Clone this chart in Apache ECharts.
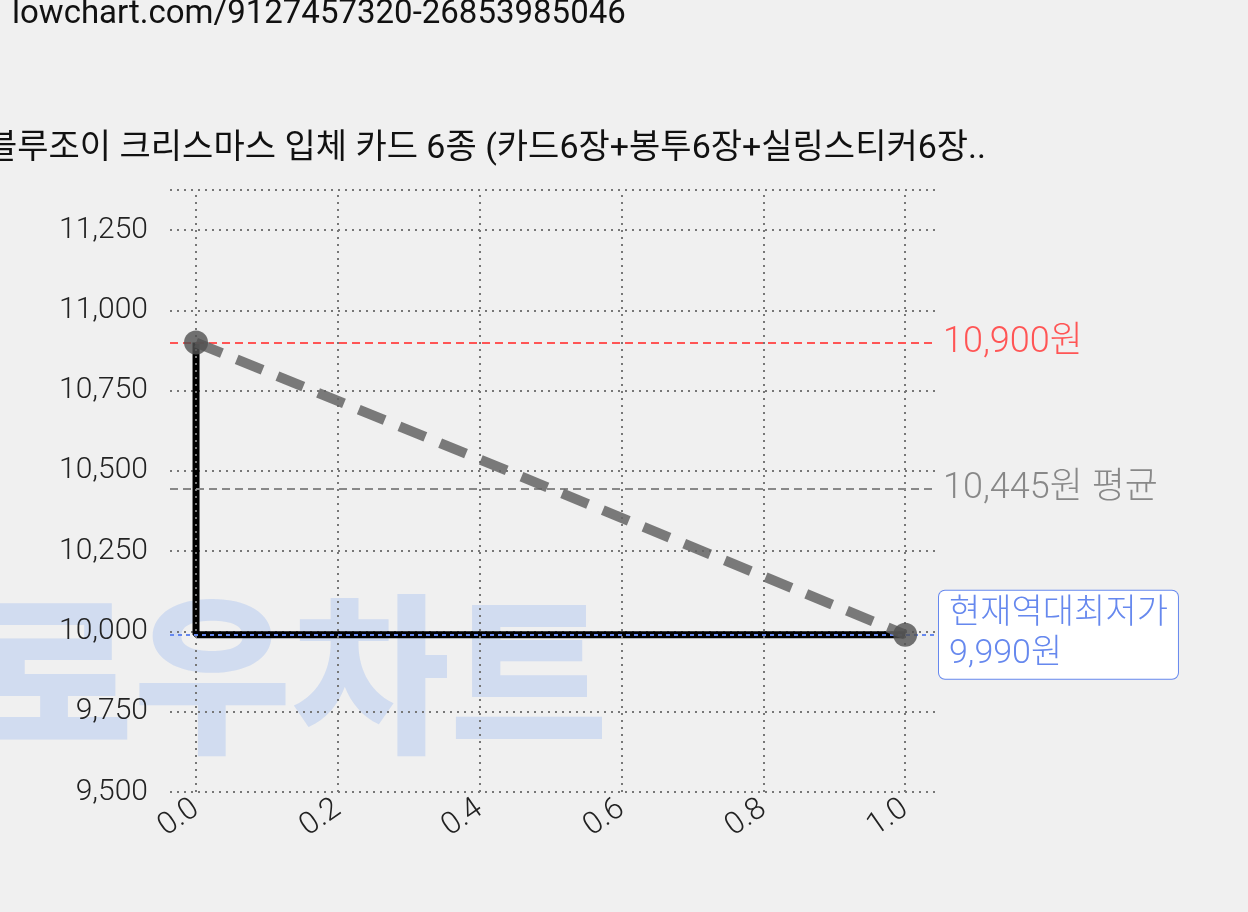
<!DOCTYPE html>
<html><head><meta charset="utf-8">
<script src="https://cdn.jsdelivr.net/npm/echarts@6/dist/echarts.min.js"></script>
<style>html,body{margin:0;padding:0;background:#f0f0f0;}#c{width:1248px;height:912px;}</style>
</head><body><div id="c"></div>
<script>
const urlText = 'lowchart.com/9127457320-26853985046';
const titleText = '블루조이 크리스마스 입체 카드 6종 (카드6장+봉투6장+실링스티커6장..';
const xTicks = [0, 0.2, 0.4, 0.6, 0.8, 1.0];
const stepX = [0, 0, 1];
const stepY = [10900, 9990, 9990];
const trendX = [0, 1];
const trendY = [10900, 9990];
const maxPrice = 10900, avgPrice = 10445, minPrice = 9990;
const F = 'Roboto, "Noto Sans CJK KR", sans-serif';

const chart = echarts.init(document.getElementById('c'));
chart.setOption({
  backgroundColor: '#f0f0f0',
  animation: false,
  graphic: [
    {type:'text', left:-25, top:588, z:0, style:{text:'로우차트', font:'900 172px "Noto Sans CJK KR"', fill:'rgba(170,195,240,0.45)'}},
    {type:'text', left:12, top:-2, style:{text:urlText, font:'33px '+F, fill:'#111'}},
    {type:'text', left:-14, top:133, style:{text:titleText, font:'34px '+F, fill:'#111'}}
  ],
  grid: {left:170, right:313, top:190, bottom:120},
  xAxis: {type:'value', min:-0.0367, max:1.042, splitLine:{show:false}, axisLine:{show:false}, axisTick:{show:false},
    axisLabel:{customValues:xTicks, formatter:v=>v.toFixed(1), rotate:35, fontSize:31, fontWeight:300, color:'#222', fontFamily:F, margin:14}},
  yAxis: {type:'value', min:9500, max:11375, interval:250, axisLine:{show:false}, axisTick:{show:false},
    axisLabel:{showMaxLabel:false, fontSize:30, fontWeight:300, color:'#222', fontFamily:F, margin:22, formatter:v=>v.toLocaleString('en-US')},
    splitLine:{lineStyle:{type:[2,5], color:'#777', width:2}}},
  series: [
    {type:'line', data:[], z:1, markLine:{silent:true, symbol:'none', label:{show:false},
      lineStyle:{type:[2,5], color:'#777', width:2}, data:xTicks.map(v=>({xAxis:v}))}},
    {type:'line', data:[], z:2, markLine:{silent:true, symbol:['none','none'], data:[
        {yAxis:maxPrice, lineStyle:{color:'#ff5555', type:[8,5], width:2},
          label:{formatter:'10,900원', color:'#ff5555', fontSize:36, fontWeight:300, fontFamily:F, position:'end', distance:8}},
        {yAxis:avgPrice, lineStyle:{color:'#888', type:[8,5], width:2},
          label:{formatter:'10,445원 평균', color:'#888', fontSize:36, fontWeight:300, fontFamily:F, position:'end', distance:8}},
        {yAxis:minPrice, lineStyle:{color:'#6688ee', type:[4,4], width:2},
          label:{formatter:'현재역대최저가\n9,990원', color:'#6688ee', fontSize:34, fontWeight:300, fontFamily:F, position:'end', distance:4,
            backgroundColor:'#fff', borderColor:'#6688ee', borderWidth:1, borderRadius:6, padding:[4,10], lineHeight:40}}
      ]}},
    {type:'line', data:stepX.map((x,i)=>[x,stepY[i]]), symbol:'none', lineStyle:{color:'#000', width:7}, z:4},
    {type:'line', data:trendX.map((x,i)=>[x,trendY[i]]), symbol:'circle', symbolSize:24,
      itemStyle:{color:'rgba(80,80,80,0.8)'}, lineStyle:{color:'rgba(100,100,100,0.85)', width:10, type:[28,16]}, z:5}
  ]
});
</script></body></html>
